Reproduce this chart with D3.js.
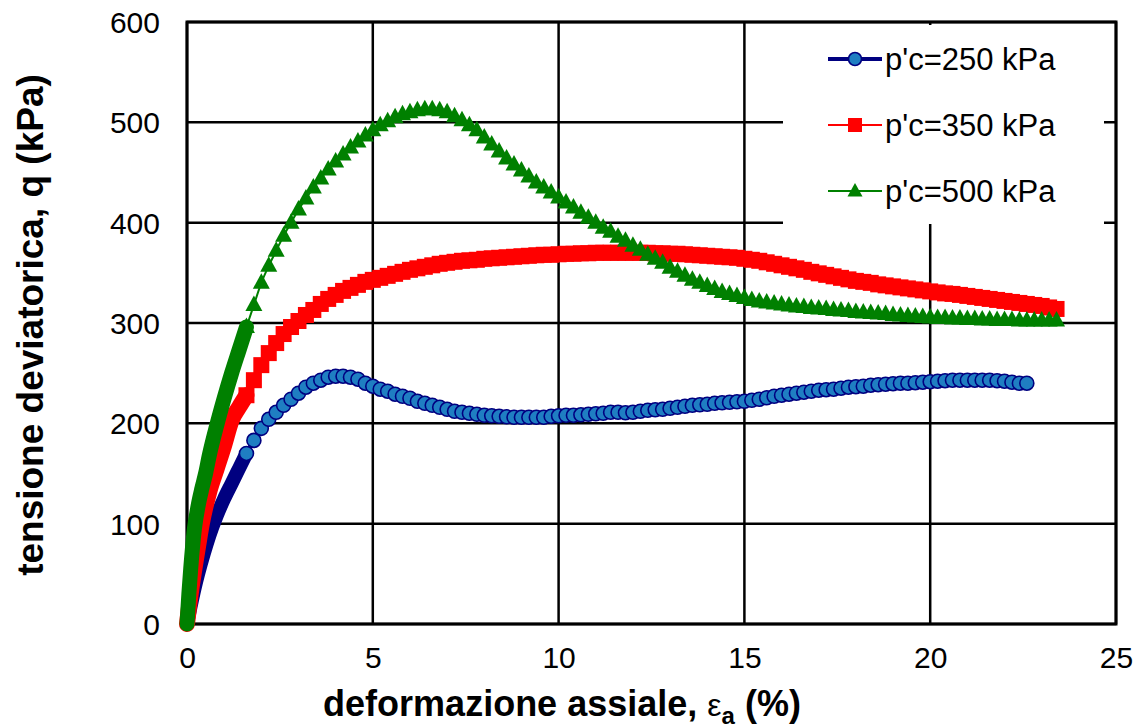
<!DOCTYPE html>
<html>
<head>
<meta charset="utf-8">
<script src="https://cdn.jsdelivr.net/npm/d3@7"></script>
<style>
  html, body { margin: 0; padding: 0; background: #fff; }
  svg { display: block; }
  text { font-family: "Liberation Sans", Arial, sans-serif; fill: #000; }
</style>
</head>
<body>
<svg id="chart" width="1141" height="728"></svg>
<script>
// ---------------- DATA ----------------
const xTicks = [0, 5, 10, 15, 20, 25];
const yTicks = [0, 100, 200, 300, 400, 500, 600];
const seriesNames = ["p'c=250 kPa", "p'c=350 kPa", "p'c=500 kPa"];

// initial (very dense) part of each test: [axial strain %, q kPa]
const blueEarly = [[0,0],[0.1,18],[0.2,35],[0.3,50],[0.45,70],[0.6,88],[0.8,108],[1.0,125],[1.2,140],[1.4,155],[1.6,170]];
const redEarly = [[0,0],[0.1,30],[0.2,55],[0.3,78],[0.4,100],[0.6,132],[0.8,155],[1.0,178],[1.2,203],[1.4,216],[1.6,228]];
const greenEarly = [[0,0],[0.05,30],[0.1,55],[0.2,95],[0.3,118],[0.4,135],[0.5,150],[0.6,168],[0.8,198],[1.0,225],[1.2,250],[1.4,273],[1.6,296]];

// strain readings (%) for the marker part
const strain = [1.6,1.8,2.0,2.2,2.4,2.6,2.8,3.0,3.2,3.4,
  3.6,3.8,4.0,4.2,4.4,4.6,4.8,5.0,5.2,5.4,
  5.6,5.8,6.0,6.2,6.4,6.6,6.8,7.0,7.2,7.4,
  7.6,7.8,8.0,8.2,8.4,8.6,8.8,9.0,9.2,9.4,
  9.6,9.8,10.0,10.2,10.4,10.6,10.8,11.0,11.2,11.4,
  11.6,11.8,12.0,12.2,12.4,12.6,12.8,13.0,13.2,13.4,
  13.6,13.8,14.0,14.2,14.4,14.6,14.8,15.0,15.2,15.4,
  15.6,15.8,16.0,16.2,16.4,16.6,16.8,17.0,17.2,17.4,
  17.6,17.8,18.0,18.2,18.4,18.6,18.8,19.0,19.2,19.4,
  19.6,19.8,20.0,20.2,20.4,20.6,20.8,21.0,21.2,21.4,
  21.6,21.8,22.0,22.2,22.4,22.6,22.8,23.0,23.2,23.4];

const q250 = [170,183,195,204,211,218,224,230,236,240,
  243,246,247,247,246,244,240,237,234,232,
  229,227,225,222,220,218,216,214,212,211,
  210,209,208,207.5,207,206.5,206,206,206,206,
  206,207,207.5,208,208,208.5,209,209.5,210,211,
  211,210.5,211,212,213,213.5,214,215,216,217,
  218,218.5,219,220,220.5,221,221.5,222,223,224,
  225.5,227,228,229,230,231,232,233,233.5,234,
  235,236,236.5,237,238,238.5,239,239.5,240,240,
  240.5,241,241.5,242,242.5,243,243,243,243,243,
  243,242.5,242,241,240,240];

const q350 = [228,243,258,270,280,289,296,302,308,313,
  319,324,328,332,335,338,341,343,345,347,
  349,351,353,354.5,356,357.5,359,360,361,362,
  362.5,363,364,364.5,365,365.5,366,366.5,367,367.5,
  368,368,368.5,369,369,369.5,369.5,370,370,370,
  370,370,370,370,370,369.5,369.5,369,369,368.5,
  368,367.5,367,366.5,366,365.5,365,364,363,362,
  360.5,359,357.5,356,354.5,353,351,349.5,348,346.5,
  345,343.5,342,341,340,338.5,337.5,336.5,335.5,334.5,
  333.5,332.5,331.5,330.5,329.5,329,328,327,326,325,
  324,323,322,321,320,319,318,317,315.5,314];

const q500 = [296,318,340,357,372,387,400,413,424,435,
  444,453,461,468,475,481,487,492,497,501,
  505,508,510,512,513,513,512,510,506,502,
  497,492,485,478,471,464,458,452,446,440,
  435,430,425,420,415,410,405,400,395,391,
  386,382,377,373,368,364,360,355,351,347,
  343,340,337,334,331,329,327,325,323,321.5,
  320.5,319.5,318.5,317.5,316.5,316,315,314.5,314,313,
  312.5,312,311,310.5,310,309.5,309,308,307.5,307,
  306.5,306,305.5,305,305,304.5,304.5,304,304,303.5,
  303.5,303,303,303,302.5,302.5,302.5,302.5,302.5,302.5];

// ---------------- CHART ----------------
const svg = d3.select("#chart");
const X0 = 187, X1 = 1116, Y0 = 624, Y1 = 22;
const x = d3.scaleLinear().domain([0, 25]).range([X0, X1]);
const y = d3.scaleLinear().domain([0, 600]).range([Y0, Y1]);

// grid
const grid = svg.append("g");
grid.selectAll(".vg").data(xTicks).join("line")
  .attr("x1", d => x(d)).attr("x2", d => x(d))
  .attr("y1", Y0).attr("y2", Y1)
  .attr("stroke", "#000").attr("stroke-width", 2.5);
grid.selectAll(".hg").data(yTicks).join("line")
  .attr("x1", X0).attr("x2", X1)
  .attr("y1", d => y(d)).attr("y2", d => y(d))
  .attr("stroke", "#000").attr("stroke-width", 2.5);

// frame
svg.append("rect").attr("x", X0).attr("y", Y1).attr("width", X1 - X0).attr("height", Y0 - Y1)
  .attr("fill", "none").attr("stroke", "#000").attr("stroke-width", 3);

// legend background (hides grid)
const legX = 783, legY = 25, legW = 321, legH = 199;
svg.append("rect").attr("x", legX).attr("y", legY).attr("width", legW).attr("height", legH).attr("fill", "#fff");

// axes tick labels via d3 axes
const yAxis = d3.axisLeft(y).tickValues(yTicks).tickSize(0).tickPadding(27).tickFormat(d3.format("d"));
const gy = svg.append("g").attr("transform", `translate(${X0},0)`).call(yAxis);
gy.select(".domain").remove();
gy.selectAll("text").attr("font-size", 30).attr("font-family", '"Liberation Sans", Arial, sans-serif').attr("fill", "#000").attr("dy", "0.35em");

const xAxis = d3.axisBottom(x).tickValues(xTicks).tickSize(0).tickPadding(23).tickFormat(d3.format("d"));
const gx = svg.append("g").attr("transform", `translate(0,${Y0})`).call(xAxis);
gx.select(".domain").remove();
gx.selectAll("text").attr("font-size", 30).attr("font-family", '"Liberation Sans", Arial, sans-serif').attr("fill", "#000").attr("dy", "0.71em");

// axis titles
const xt = svg.append("text").attr("x", 562).attr("y", 716).attr("text-anchor", "middle")
  .attr("font-size", 36).attr("font-weight", "bold");
xt.append("tspan").text("deformazione assiale, ");
xt.append("tspan").attr("font-weight", "normal").attr("font-size", 32).text("ε");
xt.append("tspan").attr("font-size", 24).attr("dy", 8).text("a");
xt.append("tspan").attr("dy", -8).text(" (%)");

svg.append("text").attr("transform", "translate(43,325) rotate(-90)").attr("text-anchor", "middle")
  .attr("font-size", 37).attr("font-weight", "bold")
  .text("tensione deviatorica, q (kPa)");

// series
const NAVY = "#000080", BLUEFILL = "#1F7EC2", RED = "#FF0000", GREEN = "#008000";
const lineGen = d3.line().x(d => x(d[0])).y(d => y(d[1])).curve(d3.curveMonotoneX);
const pts = vals => vals.map((v, i) => [strain[i], v]);

const series = [
  { early: blueEarly, main: pts(q250), lineColor: NAVY, lineW: 4, bandW: 14, marker: "circle" },
  { early: redEarly, main: pts(q350), lineColor: RED, lineW: 2, bandW: 16, marker: "square" },
  { early: greenEarly, main: pts(q500), lineColor: GREEN, lineW: 2, bandW: 15, marker: "triangle" }
];

const triPath = "M0,-9.5L8.5,6L-8.5,6Z";

function drawMarker(sel, type, legend) {
  if (type === "circle") {
    sel.append("circle").attr("r", legend ? 6.5 : 7).attr("fill", BLUEFILL).attr("stroke", NAVY).attr("stroke-width", 1.6);
  } else if (type === "square") {
    const h = legend ? 7 : 8;
    sel.append("rect").attr("x", -h).attr("y", -h).attr("width", 2 * h).attr("height", 2 * h).attr("fill", RED);
  } else {
    sel.append("path").attr("d", legend ? "M0,-8L7.5,5.5L-7.5,5.5Z" : triPath).attr("fill", GREEN);
  }
}

series.forEach(s => {
  const g = svg.append("g");
  // dense initial portion
  g.append("path").attr("d", lineGen(s.early)).attr("fill", "none")
    .attr("stroke", s.lineColor).attr("stroke-width", s.bandW)
    .attr("stroke-linecap", "round").attr("stroke-linejoin", "round");
  // connecting line
  g.append("path").attr("d", lineGen(s.main)).attr("fill", "none")
    .attr("stroke", s.lineColor).attr("stroke-width", s.lineW);
  // markers
  g.selectAll("g.m").data(s.main).join("g").attr("class", "m")
    .attr("transform", d => `translate(${x(d[0])},${y(d[1])})`)
    .each(function () { drawMarker(d3.select(this), s.marker, false); });
});

// legend
const legRows = [59, 125, 191];
series.forEach((s, i) => {
  const g = svg.append("g");
  g.append("line").attr("x1", 828).attr("x2", 882).attr("y1", legRows[i]).attr("y2", legRows[i])
    .attr("stroke", s.lineColor).attr("stroke-width", s.lineW);
  const m = g.append("g").attr("transform", `translate(855,${legRows[i]})`);
  drawMarker(m, s.marker, true);
  g.append("text").attr("x", 885).attr("y", legRows[i] + 11).attr("font-size", 31).text(seriesNames[i]);
});
</script>
</body>
</html>
